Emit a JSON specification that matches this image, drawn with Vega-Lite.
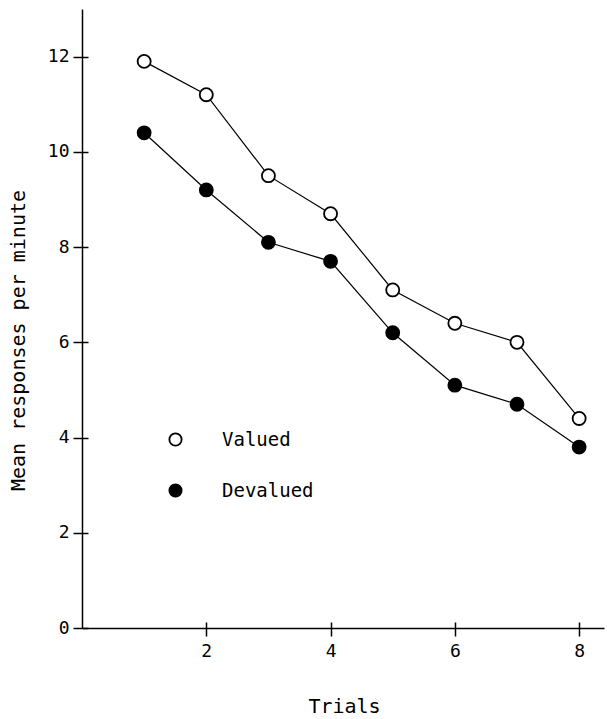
{
  "$schema": "https://vega.github.io/schema/vega-lite/v6.json",
  "width": 522,
  "height": 619,
  "autosize": {"type": "none"},
  "padding": {"left": 82, "top": 9, "right": 3, "bottom": 91},
  "background": "white",
  "config": {
    "view": {"stroke": null},
    "font": "DejaVu Sans Mono",
    "axis": {
      "grid": false,
      "domainColor": "black",
      "domainWidth": 1.5,
      "tickColor": "black",
      "tickWidth": 1.5,
      "labelColor": "black",
      "titleColor": "black",
      "labelFont": "DejaVu Sans Mono",
      "titleFont": "DejaVu Sans Mono",
      "labelFontSize": 18,
      "titleFontSize": 20,
      "titleFontWeight": "normal"
    },
    "legend": {
      "orient": "none",
      "legendX": 84,
      "legendY": 421,
      "symbolSize": 150,
      "symbolStrokeColor": "black",
      "symbolStrokeWidth": 1.8,
      "labelFontSize": 19,
      "labelFont": "DejaVu Sans Mono",
      "labelColor": "black",
      "labelOffset": 37,
      "rowPadding": 30,
      "padding": 0
    }
  },
  "data": {
    "values": [
      {"trial": 1, "group": "Valued", "resp": 11.9},
      {"trial": 2, "group": "Valued", "resp": 11.2},
      {"trial": 3, "group": "Valued", "resp": 9.5},
      {"trial": 4, "group": "Valued", "resp": 8.7},
      {"trial": 5, "group": "Valued", "resp": 7.1},
      {"trial": 6, "group": "Valued", "resp": 6.4},
      {"trial": 7, "group": "Valued", "resp": 6.0},
      {"trial": 8, "group": "Valued", "resp": 4.4},
      {"trial": 1, "group": "Devalued", "resp": 10.4},
      {"trial": 2, "group": "Devalued", "resp": 9.2},
      {"trial": 3, "group": "Devalued", "resp": 8.1},
      {"trial": 4, "group": "Devalued", "resp": 7.7},
      {"trial": 5, "group": "Devalued", "resp": 6.2},
      {"trial": 6, "group": "Devalued", "resp": 5.1},
      {"trial": 7, "group": "Devalued", "resp": 4.7},
      {"trial": 8, "group": "Devalued", "resp": 3.8}
    ]
  },
  "resolve": {"axis": {"x": "independent", "y": "independent"}},
  "layer": [
    {
      "mark": {"type": "line", "color": "black", "strokeWidth": 1.2},
      "encoding": {
        "x": {
          "field": "trial",
          "type": "quantitative",
          "scale": {"domain": [0, 8.4], "nice": false, "zero": false},
          "axis": {
            "orient": "bottom",
            "title": "Trials",
            "values": [2, 4, 6, 8],
            "tickSize": 8,
            "labelPadding": 6,
            "titleY": 84,
            "titleBaseline": "alphabetic",
            "titleX": 262
          }
        },
        "y": {
          "field": "resp",
          "type": "quantitative",
          "scale": {"domain": [0, 13], "nice": false},
          "axis": {
            "orient": "left",
            "title": "Mean responses per minute",
            "values": [0, 2, 4, 6, 8, 10, 12],
            "tickSize": 9,
            "labelPadding": 4,
            "titleX": -64,
            "titleY": 331,
            "titleAngle": -90,
            "titleBaseline": "middle",
            "titleAnchor": "middle"
          }
        },
        "detail": {"field": "group"}
      }
    },
    {
      "mark": {"type": "point", "shape": "circle", "stroke": "black", "strokeWidth": 1.8, "opacity": 1, "size": 170},
      "encoding": {
        "x": {
          "field": "trial",
          "type": "quantitative",
          "axis": {
            "orient": "bottom",
            "title": null,
            "values": [2, 4, 6, 8],
            "tickSize": -6,
            "labels": false,
            "domain": false
          }
        },
        "y": {
          "field": "resp",
          "type": "quantitative",
          "axis": {
            "orient": "left",
            "title": null,
            "values": [0, 2, 4, 6, 8, 10, 12],
            "tickSize": -6,
            "labels": false,
            "domain": false
          }
        },
        "fill": {
          "field": "group",
          "type": "nominal",
          "scale": {"domain": ["Valued", "Devalued"], "range": ["white", "black"]},
          "legend": {"title": null}
        }
      }
    }
  ]
}
